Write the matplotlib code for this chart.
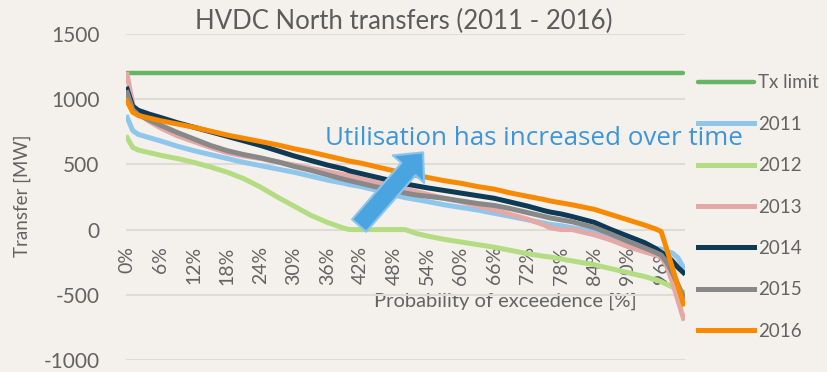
import matplotlib
matplotlib.use("Agg")
import matplotlib.pyplot as plt

plt.rcParams['font.family'] = ['Lato', 'DejaVu Sans']

# probability of exceedence [%] at which each duration curve is sampled
pct = [0, 1, 2, 4, 6, 9, 12, 15, 18, 21, 24, 27, 30, 33, 36, 39, 40, 42, 45, 48, 50,
       52, 54, 57, 60, 63, 66, 69, 72, 75, 76, 78, 80, 84, 87, 90, 93, 95, 96, 97, 98, 99, 100]

tx_limit = 1200

mw_2011 = [860, 760, 730, 705, 680, 640, 605, 575, 545, 515, 490, 465, 440, 410, 380, 355, 345,
           330, 300, 265, 245, 230, 215, 190, 170, 150, 125, 100, 75, 50, 40, 30, 15, -20, -60,
           -110, -130, -145, -150, -165, -180, -215, -290]
mw_2012 = [705, 630, 610, 590, 570, 545, 515, 480, 440, 390, 325, 250, 180, 110, 55, 10, 0,
           0, 0, 0, 0, -30, -50, -75, -95, -115, -135, -160, -185, -205, -210, -225, -240, -270,
           -300, -330, -360, -385, -400, -420, -440, -460, -480]
mw_2013 = [1190, 960, 890, 830, 780, 720, 675, 630, 590, 565, 545, 520, 495, 470, 445, 420, 410,
           390, 360, 330, 310, 290, 270, 240, 215, 180, 150, 115, 80, 35, 15, 0, 0, -40, -80,
           -130, -170, -195, -210, -280, -400, -540, -680]
mw_2014 = [1077, 946, 915, 885, 860, 820, 785, 750, 715, 680, 645, 605, 565, 530, 495, 465, 450,
           430, 400, 370, 350, 335, 320, 300, 280, 260, 240, 210, 180, 145, 135, 120, 100, 55, 0,
           -50, -100, -145, -175, -200, -240, -290, -330]
mw_2015 = [1050, 920, 880, 840, 800, 745, 695, 645, 605, 575, 550, 520, 485, 455, 420, 385, 375,
           355, 325, 300, 280, 265, 255, 240, 220, 200, 185, 160, 130, 100, 90, 75, 60, 15, -35,
           -90, -140, -175, -195, -250, -330, -420, -515]
mw_2016 = [985, 900, 875, 855, 835, 810, 785, 755, 725, 700, 675, 650, 620, 595, 565, 535, 525,
           510, 480, 450, 430, 415, 400, 375, 355, 330, 310, 280, 255, 230, 220, 205, 190, 155, 115,
           75, 35, 5, -15, -150, -290, -430, -570]

years = ['2011', '2012', '2013', '2014', '2015', '2016']
series = [mw_2011, mw_2012, mw_2013, mw_2014, mw_2015, mw_2016]
colors = ['#8ec6ec', '#b4dc82', '#e3a9a7', '#0e3a56', '#888888', '#f98a00']

xticks = list(range(0, 97, 6))
yticks = [-1000, -500, 0, 500, 1000, 1500]

bg = '#f4f1ec'
grey = '#636363'

fig = plt.figure(figsize=(8.27, 3.72), dpi=100, facecolor=bg)
ax = fig.add_axes([0.1524, 0.0323, 0.676, 0.8763], facecolor=bg)

ax.plot([pct[0], pct[-1]], [tx_limit, tx_limit], color='#64b663', lw=3.2,
        solid_capstyle='round', label='Tx limit')
for yr, vals, c in zip(years, series, colors):
    ax.plot(pct, vals, color=c, lw=3.6, label=yr)

ax.set_xlim(-0.2, 100.3)
ax.set_ylim(-1000, 1500)
ax.set_yticks(yticks)
ax.set_yticklabels([str(v) for v in yticks], fontsize=15, color=grey)
ax.grid(axis='y', color='#dfdcd7', lw=1.5)
ax.set_axisbelow(True)
for s in ax.spines.values():
    s.set_visible(False)
ax.spines['bottom'].set_position(('data', 0))
ax.tick_params(axis='y', length=0, pad=19)
ax.set_xticks(xticks)
ax.set_xticklabels([f'{t}%' for t in xticks], rotation=90, fontsize=14, color=grey)
ax.tick_params(axis='x', length=0, pad=12)

ax.set_xlabel('Probability of exceedence [%]', fontsize=14.5, color=grey)
ax.xaxis.set_label_coords(0.678, 0.206)
ax.set_ylabel('Transfer [MW]', fontsize=13.5, color=grey)
ax.yaxis.set_label_coords(-0.17, 0.503)
ax.set_title('HVDC North transfers (2011 - 2016)', fontsize=18.5, color='#5c5c5c',
             x=0.496, pad=3)

ax.annotate('', xy=(53.2, 592), xytext=(41.7, 31),
            arrowprops=dict(arrowstyle='simple,head_length=16,head_width=30,tail_width=13.5',
                            mutation_scale=1, fc='#4aa4df', ec='#8cc4ec', lw=1.5,
                            shrinkA=0, shrinkB=0))
ax.text(0.356, 0.68, 'Utilisation has increased over time', transform=ax.transAxes,
        fontsize=18.7, color='#3d95da', va='center', ha='left', clip_on=False,
        family=['Open Sans', 'DejaVu Sans'])

fig.legend(loc='upper left', bbox_to_anchor=(0.844, 0.80), frameon=False,
           prop={'size': 13.5}, labelcolor=grey, handlelength=3.0,
           handletextpad=0.2, labelspacing=1.30, borderpad=0, borderaxespad=0)

fig.savefig('out.png', dpi=100, facecolor=bg)
